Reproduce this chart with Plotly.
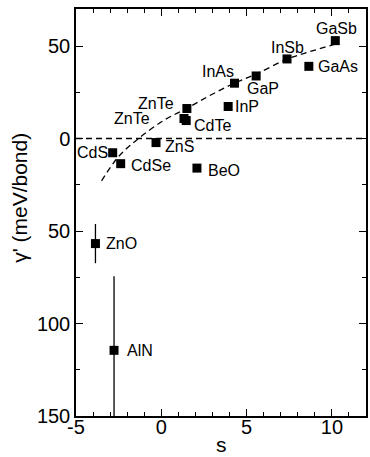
import plotly.graph_objects as go

# --- data ---
materials = ["GaSb", "InSb", "GaAs", "InAs", "GaP", "ZnTe", "InP", "ZnTe", "CdTe",
             "ZnS", "CdS", "CdSe", "BeO", "ZnO", "AlN"]
s_vals = [10.2, 7.37, 8.65, 4.29, 5.56, 1.5, 3.92, 1.33, 1.46,
          -0.31, -2.85, -2.38, 2.09, -3.86, -2.77]
gamma_vals = [52.9, 43.0, 39.0, 29.9, 33.8, 16.2, 17.3, 10.8, 9.7,
              -2.2, -7.7, -13.6, -16.0, -56.8, -114.5]
gamma_err = [0, 0, 0, 0, 0, 0, 0, 0, 0, 0, 0, 0, 0, 10.6, 40.0]

curve_s = [-3.5, -2.5, -1.33, 0.18, 1.5, 2.9, 4.3, 5.6, 7.4, 8.9, 10.4]
curve_gamma = [-22.9, -9.7, 0.0, 10.0, 16.3, 23.5, 30.0, 35.0, 43.0, 47.5, 51.5]

y_tickvals = [50, 0, -50, -100, -150]
y_ticktext = ["50", "0", "50", "100", "150"]
x_tickvals = [-5, 0, 5, 10]
x_ticktext = ["-5", "0", "5", "10"]

# label placement (pixel offsets, anchors)
label_style = {
    0: dict(xanchor="center", yanchor="middle", xshift=1, yshift=12),
    1: dict(xanchor="center", yanchor="middle", xshift=0, yshift=11),
    2: dict(xanchor="left", yanchor="middle", xshift=7, yshift=0),
    3: dict(xanchor="center", yanchor="middle", xshift=-16, yshift=12),
    4: dict(xanchor="center", yanchor="middle", xshift=7, yshift=-13),
    5: dict(xanchor="right", yanchor="middle", xshift=-11, yshift=5),
    6: dict(xanchor="left", yanchor="middle", xshift=5, yshift=0),
    7: dict(xanchor="right", yanchor="middle", xshift=-32, yshift=0),
    8: dict(xanchor="left", yanchor="middle", xshift=6, yshift=-5),
    9: dict(xanchor="left", yanchor="middle", xshift=7, yshift=-4),
    10: dict(xanchor="right", yanchor="middle", xshift=-3, yshift=0),
    11: dict(xanchor="left", yanchor="middle", xshift=8, yshift=-2),
    12: dict(xanchor="left", yanchor="middle", xshift=9, yshift=-2),
    13: dict(xanchor="left", yanchor="middle", xshift=9, yshift=0),
    14: dict(xanchor="left", yanchor="middle", xshift=11, yshift=0),
}

FONT = "Liberation Sans, Arial, sans-serif"

fig = go.Figure()

# zero line
fig.add_trace(go.Scatter(x=[-5, 12], y=[0, 0], mode="lines",
                         line=dict(color="black", width=1.3, dash="6px,4px"),
                         showlegend=False, hoverinfo="skip"))
# fit curve
fig.add_trace(go.Scatter(x=curve_s, y=curve_gamma, mode="lines",
                         line=dict(color="black", width=1.3, dash="6px,4px", shape="spline"),
                         showlegend=False, hoverinfo="skip"))
# points
fig.add_trace(go.Scatter(x=s_vals, y=gamma_vals, mode="markers",
                         marker=dict(symbol="square", size=9, color="black"),
                         error_y=dict(type="data", array=gamma_err, visible=True,
                                      color="black", thickness=1.3, width=0),
                         showlegend=False, cliponaxis=False))

for i, name in enumerate(materials):
    st = label_style[i]
    fig.add_annotation(x=s_vals[i], y=gamma_vals[i], text=name, showarrow=False,
                       font=dict(family=FONT, size=16, color="black"), **st)

# axis titles as annotations
fig.add_annotation(xref="paper", yref="paper", x=0, y=0.536, xshift=-56,
                   text="γ' (meV/bond)", textangle=-90, showarrow=False,
                   xanchor="center", yanchor="middle",
                   font=dict(family=FONT, size=21, color="black"))
fig.add_annotation(xref="paper", yref="paper", x=0.5, y=0, yshift=-28,
                   text="s", showarrow=False, xanchor="center", yanchor="middle",
                   font=dict(family=FONT, size=21, color="black"))

axis_common = dict(showline=True, linecolor="black", linewidth=1.5, mirror="ticks",
                   ticks="inside", ticklen=7, tickwidth=1.3, tickcolor="black",
                   showgrid=False, zeroline=False, automargin=False,
                   tickfont=dict(family=FONT, size=20, color="black"))

fig.update_xaxes(range=[-5, 12], tickvals=x_tickvals, ticktext=x_ticktext,
                 minor=dict(dtick=1, tick0=0, ticks="inside", ticklen=4, tickwidth=1.3, tickcolor="black"),
                 ticklabelstandoff=-8,
                 **axis_common)
fig.update_yaxes(range=[-150, 70], tickvals=y_tickvals, ticktext=y_ticktext,
                 minor=dict(dtick=25, tick0=0, ticks="inside", ticklen=4, tickwidth=1.3, tickcolor="black"),
                 **axis_common)

fig.update_layout(width=370, height=457, margin=dict(l=76, r=4, t=9, b=41),
                  plot_bgcolor="white", paper_bgcolor="white")

fig.write_html("out.html")
